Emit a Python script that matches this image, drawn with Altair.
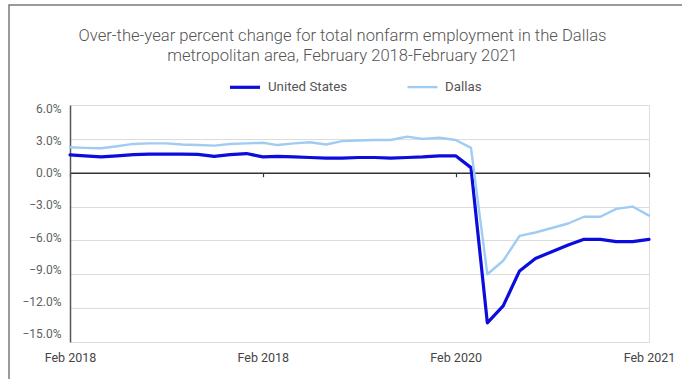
import altair as alt
import pandas as pd

# ---- data -------------------------------------------------------------
months = pd.date_range("2018-02-01", "2021-02-01", freq="MS").strftime("%Y-%m-%d").tolist()

us_values = [1.58, 1.5, 1.4, 1.5, 1.6, 1.64, 1.64, 1.64, 1.62, 1.45, 1.6, 1.7,
             1.4, 1.45, 1.4, 1.35, 1.3, 1.3, 1.35, 1.35, 1.3, 1.35, 1.4, 1.5,
             1.5, 0.45, -13.3, -11.8, -8.7, -7.6, -7.0, -6.4, -5.9, -5.9, -6.1, -6.1, -5.9]
dallas_values = [2.25, 2.2, 2.17, 2.35, 2.55, 2.6, 2.6, 2.5, 2.45, 2.4, 2.55, 2.6,
                 2.65, 2.45, 2.6, 2.7, 2.5, 2.8, 2.85, 2.9, 2.9, 3.2, 3.0, 3.1,
                 2.9, 2.2, -9.0, -7.8, -5.6, -5.3, -4.9, -4.5, -3.9, -3.9, -3.2, -3.0, -3.8]

series_names = ["United States", "Dallas"]
series_colors = ["#0c0cdc", "#a0ccf3"]
series_widths = [3.2, 2.4]

tick_dates = ["2018-02-01", "2019-02-01", "2020-02-01", "2021-02-01"]
tick_labels = ["Feb 2018", "Feb 2018", "Feb 2020", "Feb 2021"]
y_ticks = [6, 3, 0, -3, -6, -9, -12, -15]

title_lines = ["Over-the-year percent change for total nonfarm employment in the Dallas",
               "metropolitan area, February 2018-February 2021"]

rows = []
for name, vals in zip(series_names, [us_values, dallas_values]):
    for m, v in zip(months, vals):
        rows.append({"month": m, "series": name, "value": v})
df = pd.DataFrame(rows)

# ---- layout -----------------------------------------------------------
W, H = 579, 237
ymin, ymax = min(y_ticks), max(y_ticks)
zero_from_top = H * (ymax - 0) / (ymax - ymin)
x_offset = -(H - zero_from_top)

tick_ms = [int(pd.Timestamp(d, tz="UTC").timestamp() * 1000) for d in tick_dates]
label_expr = "[" + ",".join("'%s'" % t for t in tick_labels) + "][round(datum.index*%d)]" % (len(tick_labels) - 1)

FONT = "Roboto"

lines = alt.Chart(df).mark_line(strokeJoin="round", strokeCap="round").encode(
    x=alt.X("month:T",
            scale=alt.Scale(type="utc", domain=[months[0], months[-1]], nice=False),
            axis=alt.Axis(values=tick_ms, labelExpr=label_expr, title=None, grid=False,
                          offset=x_offset, domainColor="#333333", domainWidth=1.5,
                          tickColor="#333333", tickSize=4, tickWidth=1.2,
                          labelPadding=175, labelFontSize=12.5, labelColor="#444444",
                          labelFont=FONT, labelFlush=False, labelAlign="center")),
    y=alt.Y("value:Q",
            scale=alt.Scale(domain=[ymin, ymax], nice=False, zero=False),
            axis=alt.Axis(values=y_ticks, labelExpr="format(datum.value, '.1f') + '%'",
                          title=None, grid=True, gridColor="#dcdcdc", gridWidth=1,
                          domainColor="#555555", domainWidth=1.5, ticks=False,
                          labelPadding=9, labelFontSize=12, labelColor="#5f5f5f",
                          labelFont=FONT,
                          labelOffset=alt.ExprRef(expr="datum.value * 0.56"))),
    color=alt.Color("series:N",
                    scale=alt.Scale(domain=series_names, range=series_colors),
                    sort=series_names,
                    legend=alt.Legend(title=None, orient="none", direction="horizontal",
                                      legendX=158, legendY=-35,
                                      symbolType="stroke", symbolSize=900,
                                      symbolStrokeWidth=4, labelFontSize=13.3,
                                      labelColor="#555555", labelFont=FONT,
                                      labelOffset=6, columnPadding=54)),
    strokeWidth=alt.StrokeWidth("series:N",
                                scale=alt.Scale(domain=series_names, range=series_widths),
                                legend=None),
    order=alt.Order("month:T"),
)

border = alt.Chart(alt.Data(values=[{"k": 1}])).mark_rect(
    filled=False, stroke="#7a7a7a", strokeWidth=1.5
).encode(
    x=alt.value(-61), y=alt.value(-100), x2=alt.value(W + 60), y2=alt.value(H + 60)
)

chart = alt.layer(border, lines).properties(
    width=W, height=H,
    title=alt.TitleParams(text=title_lines, fontSize=16.6, font=FONT, fontWeight=300,
                          color="#555555", anchor="middle", dx=-17, dy=74, offset=14,
                          lineHeight=19.5),
    autosize=alt.AutoSizeParams(type="none"),
    padding={"left": 70, "top": 105, "right": 33, "bottom": 37},
).configure_view(stroke="#d9d9d9", strokeWidth=1).configure(background="white")

chart.save("out.html", embed_options={"renderer": "svg", "actions": False})
